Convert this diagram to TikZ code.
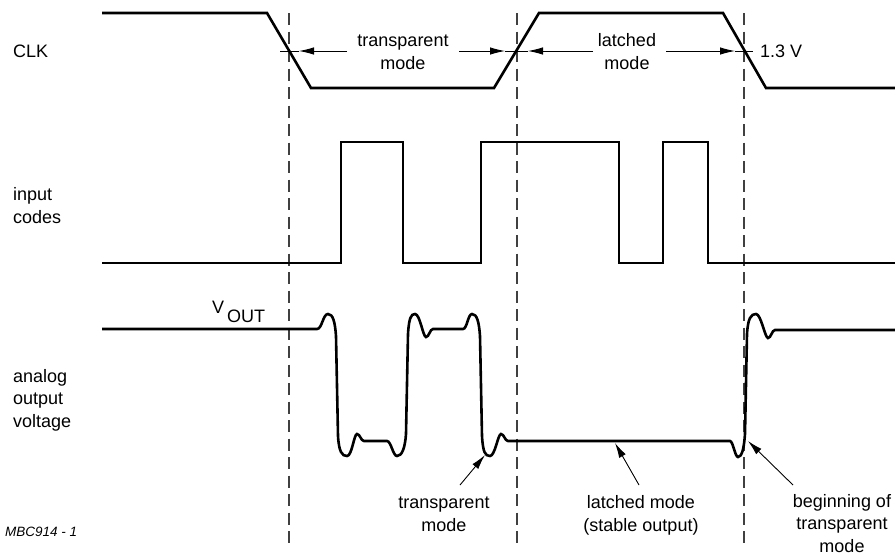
\documentclass[tikz,border=0pt]{standalone}
\usepackage{fontspec}
\setmainfont{Liberation Sans}
\usetikzlibrary{arrows.meta}
\tikzset{
  wave/.style={line width=2.6pt},
  guide/.style={black!75, line width=1.1pt, dash pattern=on 12pt off 6.5pt},
  dimline/.style={line width=0.9pt},
  dimarrow/.style={line width=0.9pt, -{Latex[length=15pt,width=7.5pt]}},
  lbl/.style={inner sep=0pt, font=\fontsize{18}{22.5}\selectfont},
}
\begin{document}
\begin{tikzpicture}[x=1pt, y=-1pt]
\useasboundingbox (0,0) rectangle (895,558);
\node[lbl, anchor=base west] (clk) at (13,57) {CLK};
\node[lbl, anchor=base west, align=left] (codes) at (13,223) {input\\codes};
\node[lbl, anchor=base west, align=left] (analog) at (13,427) {analog\\output\\voltage};
\node[lbl, anchor=base west] (vout) at (212,313) {V\hspace{3pt}\raisebox{-9pt}{OUT}};
\node[lbl, anchor=base, align=center] (tmode) at (403,69) {transparent\\mode};
\node[lbl, anchor=base, align=center] (lmode) at (627,69) {latched\\mode};
\node[lbl, anchor=base west] (volt) at (760,57) {1.3 V};
\node[lbl, anchor=base, align=center] (ttxt) at (444,531) {transparent\\mode};
\node[lbl, anchor=base, align=center] (ltxt) at (641,531) {latched mode\\(stable output)};
\node[lbl, anchor=base, align=center] (btxt) at (842,552) {beginning of\\transparent\\mode};
\node[lbl, anchor=base west, font=\fontsize{13.5}{16}\selectfont\itshape] (ref) at (5,536) {MBC914 - 1};

\coordinate (gt1) at (289,13);
\coordinate (gb1) at (289,548);
\coordinate (gt2) at (517,13);
\coordinate (gb2) at (517,548);
\coordinate (gt3) at (744,13);
\coordinate (gb3) at (744,548);
\draw[guide] (gt1) -- (gb1);
\draw[guide] (gt2) -- (gb2);
\draw[guide] (gt3) -- (gb3);

\coordinate (d1a) at (347,51);
\coordinate (d1b) at (299,51);
\coordinate (d1c) at (280,51);
\coordinate (d2a) at (459,51);
\coordinate (d2b) at (505,51);
\coordinate (d2c) at (528,51);
\coordinate (d2d) at (593,51);
\coordinate (d3a) at (666,51);
\coordinate (d3b) at (735,51);
\coordinate (d3c) at (753,51);
\draw[dimarrow] (d1a) -- (d1b);
\draw[dimline] (d1b) -- (d1c);
\draw[dimarrow] (d2a) -- (d2b);
\draw[dimline] (d2b) -- (d2c);
\draw[dimarrow] (d2d) -- (d2c);
\draw[dimarrow] (d3a) -- (d3b);
\draw[dimline] (d3b) -- (d3c);

\draw[wave] (102,13) -- (267,13) -- (311,88) -- (494,88) -- (539,13)
  -- (723,13) -- (766,88) -- (895,88);
\draw[wave] (102,263) -- (341,263) -- (341,142) -- (403,142) -- (403,263)
  -- (481,263) -- (481,142) -- (619,142) -- (619,263) -- (663,263)
  -- (663,142) -- (708,142) -- (708,263) -- (895,263);
\draw[wave] (102,329) -- (317,329)
  .. controls (322,329) and (323,314) .. (328,314)
  .. controls (333,314) and (335,322) .. (336,336) -- (338,436)
  .. controls (339,452) and (342,456) .. (347,456)
  .. controls (352,456) and (354,434) .. (357,434)
  .. controls (360,434) and (361,441) .. (364,441) -- (387,441)
  .. controls (391,441) and (393,456) .. (397,456)
  .. controls (402,456) and (405,448) .. (406,434) -- (408,334)
  .. controls (409,318) and (411,314) .. (415,314)
  .. controls (420,314) and (423,337) .. (426,337)
  .. controls (429,337) and (430,329) .. (433,329) -- (463,329)
  .. controls (467,329) and (468,314) .. (472,314)
  .. controls (477,314) and (479,322) .. (480,336) -- (482,436)
  .. controls (483,452) and (485,456) .. (490,456)
  .. controls (495,456) and (498,434) .. (501,434)
  .. controls (504,434) and (505,441) .. (508,441) -- (730,441)
  .. controls (733,441) and (735,457) .. (738,457)
  .. controls (742,457) and (744,448) .. (745,434) -- (747,334)
  .. controls (748,318) and (751,314) .. (756,314)
  .. controls (761,314) and (765,338) .. (768,338)
  .. controls (771,338) and (772,330) .. (775,330) -- (895,330);

\coordinate (q1) at (460,485);
\coordinate (p1) at (485,455);
\coordinate (q2) at (639,485);
\coordinate (p2) at (615,443);
\coordinate (q3) at (793,485);
\coordinate (p3) at (748,441);
\draw[dimarrow] (q1) -- (p1);
\draw[dimarrow] (q2) -- (p2);
\draw[dimarrow] (q3) -- (p3);
\end{tikzpicture}
\end{document}
